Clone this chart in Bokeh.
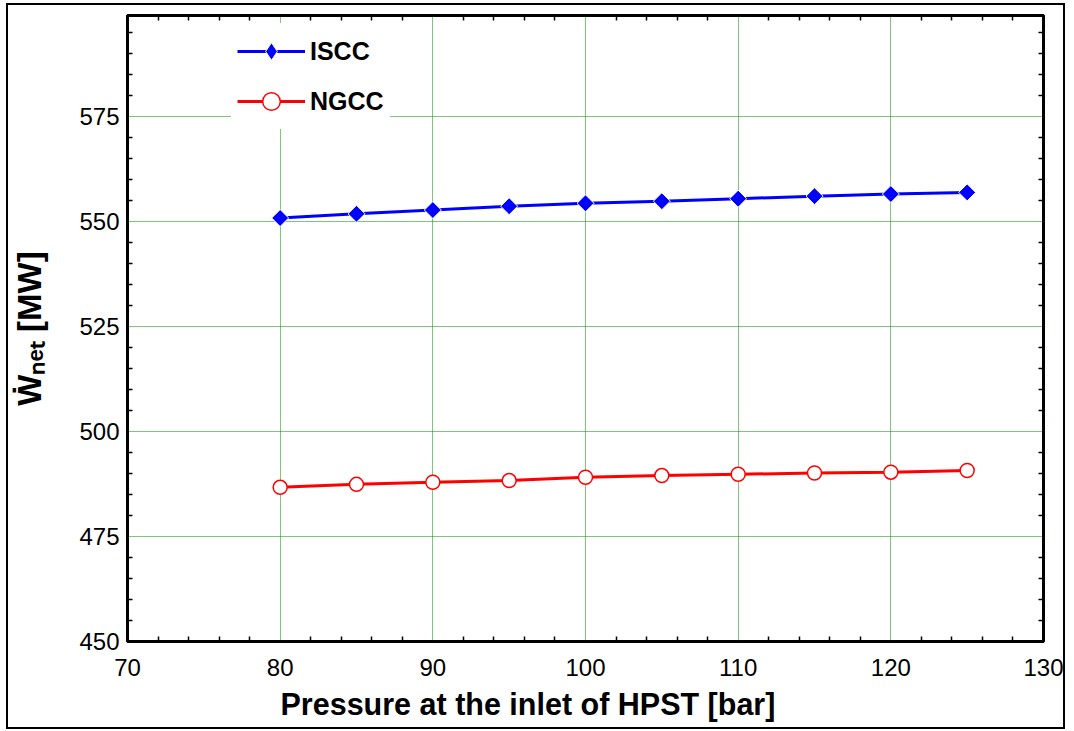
import numpy as np
from bokeh.plotting import figure
from bokeh.models import (FixedTicker, LinearAxis, Range1d, Title, Legend, LegendItem,
                          InlineStyleSheet)
from bokeh.embed import file_html
from bokeh.resources import INLINE

# ---- data ----
pressure_bar = [80, 85, 90, 95, 100, 105, 110, 115, 120, 125]
iscc_mw = [550.8, 551.8, 552.7, 553.6, 554.3, 554.8, 555.4, 556.0, 556.5, 556.9]
ngcc_mw = [486.7, 487.4, 487.9, 488.3, 489.1, 489.5, 489.8, 490.1, 490.3, 490.7]
series_names = ["ISCC", "NGCC"]
x_ticks = [70, 80, 90, 100, 110, 120, 130]
y_ticks = [450, 475, 500, 525, 550, 575]
x_title = "Pressure at the inlet of HPST [bar]"
y_title = "Ẇₙₑₜ [MW]"

x_minor = [v for v in range(70, 131, 2) if v not in x_ticks]
y_minor = [v for v in range(450, 600, 5) if v not in y_ticks]

FONT = "Liberation Sans"

p = figure(width=1074, height=731, output_backend="svg", toolbar_location=None,
           x_range=Range1d(70, 130), y_range=Range1d(450, 599),
           min_border_left=127, min_border_right=31, min_border_top=15,
           min_border_bottom=90, background_fill_color="white",
           border_fill_color="white")
# thin frame around the whole picture, drawn above the canvas layers
p.stylesheets = [InlineStyleSheet(css="""
:host { position: relative; }
:host::after {
  content: ""; position: absolute; left: 6px; top: 3px;
  width: 1059px; height: 726px; box-sizing: border-box;
  border: 2px solid black; z-index: 1000; pointer-events: none;
}
""")]

p.outline_line_color = "black"
p.outline_line_width = 3

xt = FixedTicker(ticks=x_ticks, minor_ticks=x_minor)
yt = FixedTicker(ticks=y_ticks, minor_ticks=y_minor)
p.xaxis.ticker = xt
p.yaxis.ticker = yt
# mirrored top / right axes: only the small inward ticks, no labels
p.add_layout(LinearAxis(ticker=FixedTicker(ticks=[], minor_ticks=x_minor)), "above")
p.add_layout(LinearAxis(ticker=FixedTicker(ticks=[], minor_ticks=y_minor)), "right")

for ax in p.axis:
    ax.axis_line_width = 3
    ax.axis_line_color = "black"
    ax.major_tick_in = 0
    ax.major_tick_out = 0
    ax.minor_tick_in = 5
    ax.minor_tick_out = 0
    ax.minor_tick_line_width = 1.5
    ax.minor_tick_line_color = "black"
    ax.major_label_text_font = FONT
    ax.major_label_text_font_size = "24px"
    ax.major_label_text_color = "black"

for ax in (p.above[0], p.right[0]):
    ax.major_label_standoff = 0

p.below[0].major_label_standoff = 17
yax = p.left[0]
yax.major_label_standoff = 8
yax.axis_label = y_title
yax.axis_label_text_font = FONT
yax.axis_label_text_font_style = "bold"
yax.axis_label_text_font_size = "33px"
yax.axis_label_text_color = "black"
yax.axis_label_standoff = 28

p.add_layout(Title(text=x_title, align="left", offset=153, standoff=12,
                   text_font=FONT, text_font_style="bold", text_font_size="30.5px",
                   text_color="black"), "below")

p.xgrid.ticker = xt
p.ygrid.ticker = yt
p.grid.grid_line_color = "#008800"
p.grid.grid_line_dash = "1 1"
p.grid.grid_line_width = 1

l1 = p.line(pressure_bar, iscc_mw, line_color="blue", line_width=3)
# diamond marker used for the legend symbol (hidden below the rotated squares)
s1_leg = p.scatter(pressure_bar, iscc_mw, marker="diamond", size=12,
                   fill_color="blue", line_color="white", line_width=1)
p.scatter(pressure_bar, iscc_mw, marker="square", angle=np.pi / 4, size=12,
          fill_color="blue", line_color="white", line_width=1)
l2 = p.line(pressure_bar, ngcc_mw, line_color="red", line_width=3)
s2 = p.scatter(pressure_bar, ngcc_mw, marker="circle", size=14,
               fill_color="white", line_color="red", line_width=1.5)

legend = Legend(items=[LegendItem(label=series_names[0], renderers=[l1, s1_leg]),
                       LegendItem(label=series_names[1], renderers=[l2, s2])],
                location=(104, 512), glyph_width=68, glyph_height=44,
                label_height=44, spacing=6, padding=6, margin=0,
                label_text_font=FONT, label_text_font_style="bold",
                label_text_font_size="25px", label_text_color="black",
                label_standoff=5, border_line_alpha=0,
                background_fill_color="white", background_fill_alpha=1)
p.add_layout(legend)

open("out.html", "w").write(file_html(p, INLINE))
